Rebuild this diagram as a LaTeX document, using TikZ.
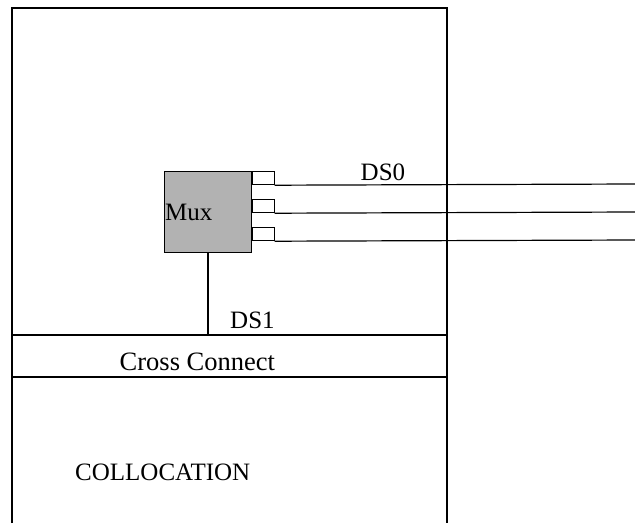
\documentclass[tikz,border=0pt]{standalone}
\usepackage{fontspec}
\setmainfont{Liberation Serif}
\begin{document}
\begin{tikzpicture}[x=1pt,y=-1pt,
  line/.style={draw=black,line width=1.2pt},
  lbl/.style={inner sep=0pt,anchor=base west,font=\fontsize{25}{28}\selectfont}]
\useasboundingbox (0,0) rectangle (635,523);
% outer frame (open at bottom)
\draw[line] (12,523) -- (12,8) -- (447,8) -- (447,523);
% cross connect band
\draw[line] (12,335) -- (447,335);
\draw[line] (12,377) -- (447,377);
% Mux
\node[line,fill=black!30,minimum width=87pt,minimum height=81pt,inner sep=0pt,anchor=north west] (mux) at (164,170.5) {};
\node[lbl] (muxt) at (165,220) {Mux};
% ports
\node[line,minimum width=22pt,minimum height=13.5pt,inner sep=0pt,anchor=north west] (p1) at (251.5,170.5) {};
\node[line,minimum width=22pt,minimum height=13.5pt,inner sep=0pt,anchor=north west] (p2) at (251.5,198.5) {};
\node[line,minimum width=22pt,minimum height=13.5pt,inner sep=0pt,anchor=north west] (p3) at (251.5,226.5) {};
\coordinate (e1) at (635,184);
\coordinate (e2) at (635,212);
\coordinate (e3) at (635,240);
\draw[line] (p1.south east) -- (e1);
\draw[line] (p2.south east) -- (e2);
\draw[line] (p3.south east) -- (e3);
% DS1 link
\coordinate (cc) at (208,335);
\draw[line] (mux.south -| cc) -- (cc);
% labels
\node[lbl] (ds0) at (360.5,180) {DS0};
\node[lbl] (ds1) at (230,328.5) {DS1};
\node[lbl,font=\fontsize{26.5}{30}\selectfont] (cct) at (119.5,370) {Cross Connect};
\node[lbl] (col) at (75,480) {COLLOCATION};
\end{tikzpicture}
\end{document}
